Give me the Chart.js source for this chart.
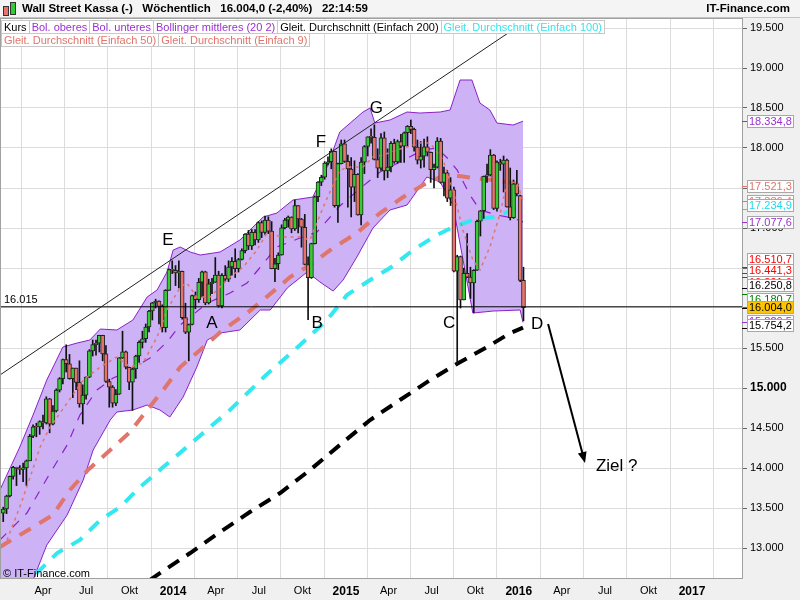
<!DOCTYPE html>
<html>
<head>
<meta charset="utf-8">
<script src="https://cdn.jsdelivr.net/npm/chart.js@4"></script>
<style>
body { margin: 0; background: #fff; font-family: "Liberation Sans", Arial, sans-serif; }
#wrap { position: relative; width: 800px; height: 600px; overflow: hidden; }
#chart { position: absolute; left: 0; top: 0; }
#head { position: absolute; left: 0; top: 0; width: 800px; height: 18px; background: #f4f4f4; border-bottom: 1px solid #c4c4c4; box-sizing: border-box; }
#head .ico { position: absolute; width: 4px; border: 1px solid #333; }
#title { position: absolute; left: 22px; top: 2px; font-size: 11.5px; font-weight: bold; white-space: pre; color: #000; }
#brand { position: absolute; right: 10px; top: 2px; font-size: 11.5px; font-weight: bold; color: #000; }
.row { position: absolute; left: 1px; display: flex; }
.lg { height: 14px; line-height: 13px; font-size: 11px; background: #fff; border: 1px solid #c8c8c8; box-sizing: border-box; padding: 0 2px; margin-right: -1px; white-space: nowrap; }
#copy { position: absolute; left: 3px; top: 567px; font-size: 11px; color: #000; }
</style>
</head>
<body>
<div id="wrap">
  <canvas id="chart" width="800" height="600"></canvas>
  <div id="head">
    <span class="ico" style="left:3px;top:6px;height:8px;background:#e8736c"></span>
    <span class="ico" style="left:10px;top:2px;height:11px;background:#33cc33"></span>
    <span id="title">Wall Street Kassa (-)   Wöchentlich   16.004,0 (-2,40%)   22:14:59</span>
    <span id="brand">IT-Finance.com</span>
  </div>
  <div class="row" style="top:20px">
    <span class="lg" style="color:#000">Kurs</span>
    <span class="lg" style="color:#9b30d0">Bol. oberes</span>
    <span class="lg" style="color:#9b30d0">Bol. unteres</span>
    <span class="lg" style="color:#9b30d0">Bollinger mittleres (20 2)</span>
    <span class="lg" style="color:#000">Gleit. Durchschnitt (Einfach 200)</span>
    <span class="lg" style="color:#33e4ee">Gleit. Durchschnitt (Einfach 100)</span>
  </div>
  <div class="row" style="top:33px">
    <span class="lg" style="color:#e0756b">Gleit. Durchschnitt (Einfach 50)</span>
    <span class="lg" style="color:#e0756b">Gleit. Durchschnitt (Einfach 9)</span>
  </div>
  <div id="copy">© IT-Finance.com</div>
</div>
<script>
// weekly candles, first week starts Mon 7 Jan 2013
const firstWeek = '2013-01-07';

const opens = [
  13435,13488,13650,13896,14009,13993,13982,14001,14090,14397,14515,14512,14579,
  14565,14865,14547,14712,14974,15118,15354,15303,15116,15248,15070,14800,14910,
  15136,15464,15543,15559,15659,15426,15081,15010,14810,14922,15376,15452,15259,
  15073,15237,15400,15570,15616,15762,15962,16065,16086,16020,15755,16221,16479,
  16470,16437,16459,15879,15699,15794,16154,16103,16322,16452,16065,16303,16323,
  16412,16027,16409,16361,16513,16583,16492,16606,16717,16924,16776,16947,16852,
  17068,16944,17100,16961,16493,16553,16663,17001,17098,17138,16988,17280,17113,
  17009,16544,16380,16805,17391,17573,17634,17810,17828,17958,17280,17804,18053,
  17833,17737,17511,17672,17165,17824,18019,18140,18133,17856,17749,18128,17713,
  17763,18057,17826,18080,18024,18191,18272,18232,18011,17849,17899,18015,17947,
  17730,17760,18086,17569,17690,17373,17477,16460,16643,16102,16433,16385,16315,
  16472,17084,17216,17647,17664,17910,17245,17824,17798,17848,17265,17128,17553,
  17405,16346
];
const highs = [
  13510,13660,13900,14020,14010,14030,14060,14100,14420,14540,14560,14590,14660,
  14890,14870,14780,14990,15130,15360,15540,15420,15250,15250,15340,15040,15140,
  15480,15600,15600,15660,15660,15530,15110,15030,14980,15380,15710,15460,15260,
  15250,15410,15590,15710,15800,15970,16070,16110,16090,16040,16230,16490,16590,
  16530,16590,16460,16060,15800,16160,16200,16370,16460,16460,16360,16370,16630,
  16460,16430,16530,16590,16630,16740,16620,16740,16930,16970,16980,16980,17080,
  17090,17150,17140,17080,16620,16690,17040,17120,17150,17140,17350,17280,17120,
  17170,16640,16810,17400,17580,17660,17830,17890,17990,17960,17810,18100,18100,
  17910,17880,17840,17680,17880,18030,18140,18240,18290,17990,18180,18200,17990,
  18080,18110,18100,18170,18200,18280,18350,18250,18100,18080,18110,18140,17950,
  17800,18130,18120,17760,17720,17630,17510,16660,16650,16500,16930,16510,16480,
  17100,17220,17650,17800,17980,17920,17840,17860,17900,17860,17750,17600,17720,
  17410,16510
];
const lows = [
  13330,13430,13640,13860,13780,13920,13830,13780,14090,14380,14390,14420,14490,
  14550,14440,14540,14700,14950,15050,15200,15110,14880,14980,14760,14550,14860,
  15130,15400,15410,15450,15340,15070,14760,14760,14780,14920,15370,15240,14980,
  14720,15120,15320,15500,15570,15700,15850,16000,15800,15700,15700,16220,16430,
  16280,16250,15860,15680,15340,15790,15990,16070,16140,16040,16050,16180,16320,
  16010,16000,16330,16330,16410,16380,16450,16600,16690,16730,16730,16790,16820,
  16880,16920,16930,16490,16330,16480,16660,16990,17010,16940,16970,16940,16760,
  16540,15855,16370,16800,17330,17530,17610,17790,17740,17260,17070,17800,17820,
  17260,17140,17330,17160,17040,17680,17900,18060,17850,17630,17720,17600,17630,
  17700,17810,17810,17820,17820,18020,18180,17960,17800,17750,17760,17900,17570,
  17500,17750,17560,17400,17330,17280,16450,15280,16000,16100,16380,16120,15940,
  16470,16900,17120,17570,17650,17230,17210,17720,17450,17260,17100,17120,17400,
  16330,15840
];
const closes = [
  13488,13650,13896,14009,13993,13982,14001,14090,14397,14515,14512,14579,14565,
  14865,14547,14712,14974,15118,15354,15303,15116,15248,15070,14800,14910,15136,
  15464,15543,15559,15659,15426,15081,15010,14810,14922,15376,15452,15259,15073,
  15237,15400,15570,15616,15762,15962,16065,16086,16020,15755,16221,16479,16470,
  16437,16459,15879,15699,15794,16154,16103,16322,16452,16065,16303,16323,16412,
  16027,16409,16361,16513,16583,16492,16606,16717,16924,16776,16947,16852,17068,
  16944,17100,16961,16493,16553,16663,17001,17098,17138,16988,17280,17113,17009,
  16544,16380,16805,17391,17573,17634,17810,17828,17958,17280,17804,18053,17833,
  17737,17511,17672,17165,17824,18019,18140,18133,17856,17749,18128,17713,17763,
  18057,17826,18080,18024,18191,18272,18232,18011,17849,17899,18015,17947,17730,
  17760,18086,17569,17690,17373,17477,16460,16643,16102,16433,16385,16315,16472,
  17084,17216,17647,17664,17910,17245,17824,17798,17848,17265,17128,17553,17425,
  16346,16004
];

// indicator lines, x in days since 1 Jan 2013
const bbUpperDays = [-1,41,69,98,132,162,189,211,246,280,310,331,352,365,380,401,422,464,506,542,555,584,618,660,690,717,739,766,781,791,823,859,886,929,950,971,996,1013,1034,1049,1083,1104];
const bbUpper = [13725,14262,14662,15100,15512,15562,15600,15737,15725,15850,16137,16225,16450,16725,16762,16700,16662,16700,16850,17062,17137,17187,17350,17387,17762,18200,18312,18450,18500,18312,18350,18450,18437,18450,18475,18850,18850,18562,18475,18312,18287,18335];
const bbLowerDays = [-1,69,98,141,175,196,232,246,280,310,337,358,386,415,437,464,506,549,570,606,648,675,703,724,753,787,823,859,901,929,956,998,1041,1098,1104];
const bbLower = [12475,12600,13037,13412,13850,14225,14600,14700,14725,14787,14725,14637,14887,15262,15600,15687,15725,15975,15975,16250,16450,16325,16212,16350,16637,17000,17225,17287,17637,17575,17287,15937,15962,15975,15820];
const bbMidDays = [-1,56,105,141,168,204,238,268,316,352,380,437,485,521,544,584,633,669,717,766,802,844,893,922,944,965,992,1013,1049,1083,1104];
const bbMid = [13100,13437,13937,14287,14662,14975,15125,15200,15375,15575,15787,16062,16187,16312,16475,16762,16875,16950,17275,17525,17700,17825,17975,18000,17875,17725,17412,17225,17162,17125,17077];
const sma200Days = [316,337,401,464,527,591,654,717,781,844,908,960,1028,1077,1104];
const sma200 = [12600,12687,12937,13200,13450,13687,13975,14287,14600,14850,15100,15287,15512,15687,15754];
const sma100Days = [41,77,120,168,211,253,295,344,394,485,559,633,690,732,781,823,872,922,956,998,1041,1083,1104];
const sma100 = [12475,12687,12937,13100,13350,13512,13762,14012,14262,14725,15150,15537,15850,16162,16350,16500,16725,16912,17012,17100,17137,17225,17235];
const sma50Days = [-1,69,111,147,185,225,274,310,344,380,422,470,521,555,612,654,703,753,802,851,893,929,956,998,1041,1083,1104];
const sma50 = [13012,13262,13412,13725,13975,14187,14450,14725,14975,15262,15475,15725,15937,16100,16387,16537,16750,16937,17187,17387,17537,17637,17662,17625,17600,17562,17521];
const sma9Days = [14,41,63,84,105,141,175,211,246,274,301,331,352,380,394,415,443,464,485,513,542,563,597,633,654,682,717,739,766,787,808,838,859,886,908,935,956,977,998,1013,1034,1056,1070,1091,1104];
const sma9 = [13100,13512,13887,14262,14512,14812,15100,15262,15387,15262,15312,15637,15975,16262,16312,16137,16137,16262,16387,16512,16725,16937,16887,16887,16850,17262,17725,17762,17762,17887,17912,17975,18012,18062,18062,17850,17475,16975,16600,16475,16762,17187,17562,17575,17336];

const trendDays = [-1, 1087];
const trendVals = [15162, 19495];
const supportLevel = 16015;

const tickDates = ['2013-04-01','2013-07-01','2013-10-01','2014-01-01','2014-04-01','2014-07-01','2014-10-01','2015-01-01','2015-04-01','2015-07-01','2015-10-01','2016-01-01','2016-04-01','2016-07-01','2016-10-01','2017-01-01'];
const tickLabels = ['Apr','Jul','Okt','2014','Apr','Jul','Okt','2015','Apr','Jul','Okt','2016','Apr','Jul','Okt','2017'];
const yTicks = [13000,13500,14000,14500,15000,15500,16000,16500,17000,17500,18000,18500,19000,19500];

// last values shown in boxes on the price axis
const lastValues = [18334.8, 17521.3, 17336.4, 17234.9, 17077.6, 16510.7, 16441.3, 16391.6, 16250.8, 16180.7, 16004.0, 15820.5, 15754.2];
const lastColors = ['#9b30d0','#e0756b','#e0756b','#22d8e8','#9b30d0','#ff0000','#ff0000','#ff0000','#000','#008000','#000','#9b30d0','#000'];
const boxShift = [0, 0, 0, -4, 0, -8, -3, 5, -3, 5, -1, -1, -3];

// chart letters (day, value)
const notes = [
  { t: 'E', d: 354, v: 16850 }, { t: 'F', d: 677, v: 18075 }, { t: 'G', d: 794, v: 18500 },
  { t: 'A', d: 447, v: 15812 }, { t: 'B', d: 669, v: 15812 }, { t: 'C', d: 948, v: 15812 },
  { t: 'D', d: 1134, v: 15800 }, { t: 'Ziel ?', d: 1302, v: 14025 }
];
const arrowFrom = { d: 1157, v: 15800 };
const arrowTo = { d: 1235, v: 14062 };

const DAY = 86400000;
const origin = Date.UTC(2013, 0, 1);
function dayOf(s) {
  const p = s.split('-').map(Number);
  return (Date.UTC(p[0], p[1] - 1, p[2]) - origin) / DAY;
}
const tickDays = tickDates.map(dayOf);
const weekDays = closes.map((c, i) => dayOf(firstWeek) + i * 7);

function zip(xs, ys) { return xs.map((x, i) => ({ x: x, y: ys[i] })); }
function fmtInt(v) { return String(v).replace(/\B(?=(\d{3})+(?!\d))/g, '.'); }
function fmtDec(v) {
  const p = v.toFixed(1).split('.');
  return fmtInt(p[0]) + ',' + p[1];
}

const FONT = '"Liberation Sans", Arial, sans-serif';
const green = '#33cc33';
const red = '#e8736c';

const paint = {
  id: 'paint',
  beforeDraw(chart) {
    const { ctx, chartArea: a } = chart;
    ctx.save();
    ctx.fillStyle = '#f0f0f0';
    ctx.fillRect(0, 0, chart.width, chart.height);
    ctx.fillStyle = '#fff';
    ctx.fillRect(a.left, a.top, a.right - a.left, a.bottom - a.top);
    ctx.restore();
  },
  afterDatasetsDraw(chart) {
    const { ctx, chartArea: a, scales: { x, y } } = chart;
    ctx.save();
    ctx.fillStyle = '#000';
    ctx.font = '11px ' + FONT;
    ctx.textAlign = 'left';
    ctx.textBaseline = 'bottom';
    ctx.fillText(fmtInt(supportLevel), a.left + 3, y.getPixelForValue(supportLevel) - 1);

    ctx.font = '17px ' + FONT;
    ctx.textAlign = 'center';
    ctx.textBaseline = 'middle';
    notes.forEach(n => ctx.fillText(n.t, x.getPixelForValue(n.d), y.getPixelForValue(n.v)));

    const x1 = x.getPixelForValue(arrowFrom.d), y1 = y.getPixelForValue(arrowFrom.v);
    const x2 = x.getPixelForValue(arrowTo.d), y2 = y.getPixelForValue(arrowTo.v);
    const ang = Math.atan2(y2 - y1, x2 - x1);
    ctx.strokeStyle = '#000';
    ctx.lineWidth = 2;
    ctx.beginPath();
    ctx.moveTo(x1, y1);
    ctx.lineTo(x2 - 8 * Math.cos(ang), y2 - 8 * Math.sin(ang));
    ctx.stroke();
    ctx.beginPath();
    ctx.moveTo(x2, y2);
    ctx.lineTo(x2 - 11 * Math.cos(ang) + 4.5 * Math.sin(ang), y2 - 11 * Math.sin(ang) - 4.5 * Math.cos(ang));
    ctx.lineTo(x2 - 11 * Math.cos(ang) - 4.5 * Math.sin(ang), y2 - 11 * Math.sin(ang) + 4.5 * Math.cos(ang));
    ctx.closePath();
    ctx.fill();
    ctx.restore();
  },
  afterDraw(chart) {
    const { ctx, chartArea: a, scales: { y } } = chart;
    ctx.save();
    ctx.strokeStyle = '#a0a0a0';
    ctx.lineWidth = 1;
    ctx.strokeRect(a.left - 0.5, a.top + 0.5, a.right - a.left + 1, a.bottom - a.top);
    ctx.font = '11px ' + FONT;
    ctx.textBaseline = 'middle';
    ctx.textAlign = 'left';
    lastValues.forEach((v, i) => {
      const py = y.getPixelForValue(v);
      ctx.strokeStyle = lastColors[i];
      ctx.beginPath();
      ctx.moveTo(a.right, Math.round(py) + 0.5);
      ctx.lineTo(a.right + 5, Math.round(py) + 0.5);
      ctx.stroke();
    });
    lastValues.forEach((v, i) => {
      const cy = Math.round(y.getPixelForValue(v) + boxShift[i]);
      const current = v === closes[closes.length - 1];
      ctx.fillStyle = current ? '#ffc400' : '#fff';
      ctx.fillRect(747, cy - 6, 47, 13);
      ctx.strokeStyle = '#a8a8a8';
      ctx.strokeRect(747.5, cy - 5.5, 46, 12);
      ctx.fillStyle = lastColors[i];
      ctx.fillText(fmtDec(v), 749, cy + 1);
    });
    ctx.restore();
  }
};

function lineSet(label, days, vals, color, width, dash, order, extra) {
  return Object.assign({
    type: 'line', label: label, data: zip(days, vals),
    borderColor: color, borderWidth: width, borderDash: dash,
    pointRadius: 0, tension: 0, fill: false, order: order
  }, extra || {});
}

new Chart(document.getElementById('chart'), {
  type: 'bar',
  data: {
    datasets: [
      lineSet('Bol. oberes', bbUpperDays, bbUpper, '#8a22c8', 1, [], 20, { fill: '+1', backgroundColor: '#cdb2f6' }),
      lineSet('Bol. unteres', bbLowerDays, bbLower, '#8a22c8', 1, [], 19),
      lineSet('Bollinger mittleres', bbMidDays, bbMid, '#8a22c8', 1.2, [9, 9], 6),
      lineSet('SMA 200', sma200Days, sma200, '#000', 4, [13, 9], 5),
      lineSet('SMA 100', sma100Days, sma100, '#33e8f0', 4, [13, 10], 5),
      lineSet('SMA 50', sma50Days, sma50, '#e0756b', 4, [13, 10], 5),
      lineSet('SMA 9', sma9Days, sma9, '#e0756b', 1.5, [3, 4], 1),
      {
        label: 'Docht', grouped: false, order: 3,
        data: weekDays.map((d, i) => ({ x: d, y: [lows[i], highs[i]] })),
        backgroundColor: '#111', barThickness: 1
      },
      {
        label: 'Kurs', grouped: false, order: 2,
        data: weekDays.map((d, i) => ({ x: d, y: [opens[i], closes[i]] })),
        backgroundColor: closes.map((c, i) => c >= opens[i] ? green : red),
        borderColor: '#222', borderWidth: 1, borderSkipped: false,
        barThickness: 4, minBarLength: 1
      },
      lineSet('Trend', trendDays, trendVals, '#222', 1, [], 1),
      lineSet('16015', [-20, 1600], [supportLevel, supportLevel], '#000', 1, [], 1)
    ]
  },
  options: {
    responsive: false,
    animation: false,
    layout: { padding: { top: 18, left: 1, right: 0, bottom: 0 } },
    plugins: { legend: { display: false }, tooltip: { enabled: false } },
    scales: {
      x: {
        type: 'linear', offset: false, min: 1.3, max: 1566.6,
        afterBuildTicks: s => { s.ticks = tickDays.map(v => ({ value: v })); },
        afterFit: s => { s.height = 22; },
        grid: { color: '#dcdcdc', drawTicks: false },
        border: { color: '#a0a0a0' },
        ticks: {
          autoSkip: false, maxRotation: 0, padding: 6, color: '#000',
          callback: v => tickLabels[tickDays.indexOf(v)],
          font: c => {
            const lab = tickLabels[tickDays.indexOf(c.tick ? c.tick.value : -1)] || '';
            return lab.length === 4 ? { family: FONT, size: 12, weight: 'bold' } : { family: FONT, size: 11 };
          }
        }
      },
      y: {
        type: 'linear', position: 'right', min: 12625, max: 19625,
        afterBuildTicks: s => { s.ticks = yTicks.map(v => ({ value: v })); },
        afterFit: s => { s.width = 58; },
        grid: { color: '#dcdcdc', tickLength: 5, tickColor: '#666' },
        border: { color: '#a0a0a0' },
        ticks: {
          padding: 3, color: '#000',
          callback: v => fmtInt(v),
          font: c => (c.tick && c.tick.value === 15000) ? { family: FONT, size: 12, weight: 'bold' } : { family: FONT, size: 11 }
        }
      }
    }
  },
  plugins: [paint]
});
</script>
</body>
</html>
